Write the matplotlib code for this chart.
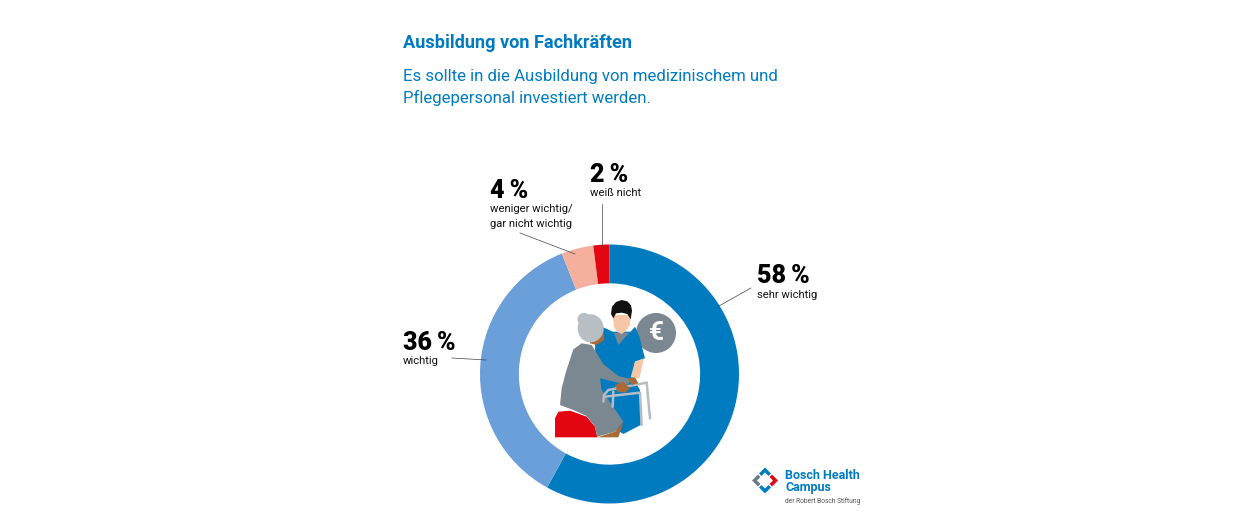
import matplotlib
matplotlib.use("Agg")
import matplotlib.pyplot as plt
from matplotlib.patches import Polygon, Circle, Ellipse

W, H = 1260, 528
FONT = "Roboto"
BLUE = "#007bc0"

# values clockwise from 12 o'clock
shares = [58, 36, 4, 2]
share_labels = ["58\u2009%", "36\u2009%", "4\u2009%", "2\u2009%"]
categories = ["sehr wichtig", "wichtig", "weniger wichtig/\ngar nicht wichtig", "weiß nicht"]
colors = [BLUE, "#6a9fd9", "#f4b09c", "#e20613"]

fig = plt.figure(figsize=(W / 100, H / 100), dpi=100, facecolor="white")

# donut
cx, cy, r = 609.5, 374, 129.5
pie_ax = fig.add_axes([(cx - r) / W, 1 - (cy + r) / H, 2 * r / W, 2 * r / H])
pie_ax.pie(shares, colors=colors, startangle=90, counterclock=False, radius=1,
           wedgeprops={"width": 0.30, "linewidth": 0})
pie_ax.set_xlim(-1, 1)
pie_ax.set_ylim(-1, 1)
pie_ax.set_aspect("equal")

# overlay in pixel coordinates
ax = fig.add_axes([0, 0, 1, 1], facecolor="none")
ax.set_xlim(0, W)
ax.set_ylim(H, 0)
ax.axis("off")

ax.text(403, 43, "Ausbildung von Fachkräften", color=BLUE, fontsize=13.1, fontweight="bold",
        family=FONT, va="center")
ax.text(403, 76, "Es sollte in die Ausbildung von medizinischem und", color=BLUE, fontsize=12.05,
        family=FONT, va="center")
ax.text(403, 98, "Pflegepersonal investiert werden.", color=BLUE, fontsize=12.05,
        family=FONT, va="center")

# labels: (x, y of number, y of first caption line)
label_pos = [(757, 276, 294), (403, 343, 361), (490, 191, 208), (590, 175, 193)]
for val, cat, (x, y1, y2) in zip(share_labels, categories, label_pos):
    ax.text(x, y1, val, fontsize=18, fontweight=900, color="black", family=FONT, va="center")
    ax.text(x, y2 - 4.5, cat, fontsize=8.1, color="#111111", family=FONT, va="top", linespacing=1.65)

# leader lines
for (x0, y0), (x1, y1) in [((719, 306), (751, 288)), ((452, 358), (486, 360)),
                           ((520, 233), (575, 254)), ((602, 204), (602, 246))]:
    ax.plot([x0, x1], [y0, y1], color="#444444", lw=0.5)


def zp(pts):
    # illustration sketched in the 3x zoom grid of the crop at (540, 290)
    return [(540 + a / 3, 290 + b / 3) for a, b in pts]


def shape(pts, color, z=3):
    ax.add_patch(Polygon(zp(pts), closed=True, fc=color, ec="none", zorder=z))


GREY = "#7b8791"
SKIN = "#f5c7a6"
BROWN = "#a96a35"

# euro coin
ax.add_patch(Circle((656, 333), 20, fc=GREY, ec="none", zorder=3))
ax.text(656, 333.5, "€", color="white", fontsize=19, fontweight="bold", family=FONT,
        ha="center", va="center", zorder=4)

# carer
shape([(190, 112), (218, 125), (272, 125), (285, 110), (298, 140), (315, 205), (285, 215),
       (278, 262), (300, 300), (302, 405), (250, 432), (200, 400), (168, 295), (165, 160)], BLUE)
shape([(222, 128), (268, 128), (235, 165)], GREY, 4)
shape([(218, 75), (272, 75), (270, 105), (258, 122), (245, 132), (232, 126), (222, 110)], SKIN, 4)
shape([(213, 72), (216, 50), (228, 36), (245, 30), (262, 34), (273, 46), (276, 62), (272, 88),
       (262, 72), (245, 68), (228, 70), (220, 85)], "#111111", 5)
shape([(285, 215), (312, 205), (298, 265), (272, 262)], SKIN, 4)

# walker
for seg in [[(190, 335), (192, 315), (205, 300), (320, 278)], [(220, 305), (218, 350)],
            [(320, 278), (330, 385)], [(195, 320), (300, 308), (305, 405)]]:
    x, y = zip(*zp(seg))
    ax.plot(x, y, color="#b5bcc3", lw=1.8, zorder=6, solid_capstyle="round")

# patient
shape([(150, 140), (190, 118), (193, 150), (170, 165), (150, 160)], BROWN, 5)
shape([(100, 178), (125, 160), (155, 165), (190, 222), (235, 258), (275, 268), (262, 285), (180, 265),
       (185, 300), (250, 395), (225, 425), (172, 440), (165, 410), (140, 378), (100, 360), (60, 345),
       (65, 295), (78, 245)], GREY, 5)
shape([(225, 285), (250, 275), (270, 295), (255, 308), (232, 305)], BROWN, 7)
shape([(265, 265), (285, 262), (295, 280), (275, 285)], BROWN, 7)
shape([(172, 442), (235, 442), (250, 398), (225, 425)], BROWN, 6)
ax.add_patch(Ellipse((540 + 152 / 3, 290 + 115 / 3), 26, 28, fc="#b9bec3", ec="none", zorder=6))
ax.add_patch(Circle((540 + 132 / 3, 290 + 88 / 3), 6.5, fc="#b9bec3", ec="none", zorder=6))

# stool
shape([(45, 442), (45, 385), (55, 365), (90, 362), (140, 380), (165, 410), (172, 442)], "#e20613", 4)

# logo
for pts, col in [([(752, 480.5), (758, 474.5), (760.5, 477), (757, 480.5), (760.5, 484), (758, 486.5)], "#6f7a84"),
                 ([(778, 480.5), (772, 474.5), (769.5, 477), (773, 480.5), (769.5, 484), (772, 486.5)], "#e20613"),
                 ([(765, 467.5), (771, 473.5), (768.5, 476), (765, 472.5), (761.5, 476), (759, 473.5)], BLUE),
                 ([(765, 493.5), (771, 487.5), (768.5, 485), (765, 488.5), (761.5, 485), (759, 487.5)], BLUE)]:
    ax.add_patch(Polygon(pts, closed=True, fc=col, ec="none"))
ax.text(785, 475.5, "Bosch Health", color=BLUE, fontsize=9, fontweight="bold", family=FONT, va="center")
ax.text(785, 487, "Campus", color=BLUE, fontsize=9, fontweight="bold", family=FONT, va="center")
ax.text(785, 501, "der Robert Bosch Stiftung", color="#555555", fontsize=4.8, family=FONT, va="center")

fig.savefig("out.png", dpi=100)
